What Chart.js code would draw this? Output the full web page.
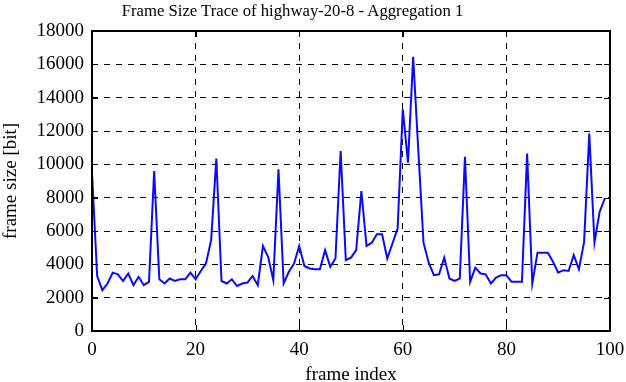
<!DOCTYPE html>
<html lang="en">
<head>
    <meta charset="UTF-8">
    <title>Frame Size Trace</title>
    <style>
        body { margin: 0; background: #fff; }
        #wrap { position: relative; width: 626px; height: 382px; }
        #title {
            position: absolute;
            left: 0;
            width: 585px;
            top: 0;
            text-align: center;
            font: 16.7px "Liberation Serif", serif;
            line-height: 22px;
            color: #000;
        }
    </style>
</head>
<body>
    <div id="wrap">
        <div id="title">Frame Size Trace of highway-20-8 - Aggregation 1</div>
        <canvas id="chart" width="626" height="382"></canvas>
    </div>
    <script src="https://cdn.jsdelivr.net/npm/chart.js"></script>
    <script>
        // frame sizes in bit, frames 0..99
        const frameSizes = [
            9500, 3300, 2450, 2850, 3500, 3400, 3000, 3450, 2750, 3250,
            2750, 2950, 9600, 3100, 2850, 3150, 3000, 3100, 3100, 3500,
            3100, 3600, 4050, 5450, 10350, 3000, 2850, 3100, 2700, 2850,
            2900, 3300, 2750, 5100, 4450, 3050, 9700, 2850, 3550, 4050,
            5100, 3900, 3750, 3700, 3700, 4850, 3850, 4350, 10800, 4250,
            4400, 4850, 8400, 5100, 5300, 5800, 5800, 4350, 5250, 6150,
            13300, 10100, 16450, 10800, 5300, 4100, 3350, 3400, 4400, 3150,
            3000, 3150, 10450, 2950, 3800, 3450, 3400, 2850, 3200, 3350,
            3350, 2950, 2950, 2950, 10650, 2850, 4700, 4700, 4700, 4150,
            3500, 3650, 3600, 4550, 3700, 5350, 11850, 5300, 7150, 7950
        ];
        const xTicks = [0, 20, 40, 60, 80, 100];
        const yTicks = [0, 2000, 4000, 6000, 8000, 10000, 12000, 14000, 16000, 18000];

        const points = frameSizes.map((v, i) => ({ x: i, y: v }));
        const serif = "'Liberation Serif', serif";
        Chart.defaults.font.family = serif;
        Chart.defaults.font.size = 19;
        Chart.defaults.color = '#000';

        // black frame plus inner tick marks on all four sides
        const framePlugin = {
            id: 'frame',
            afterDraw(chart) {
                const { ctx, chartArea: a, scales } = chart;
                ctx.save();
                ctx.strokeStyle = '#000';
                ctx.lineWidth = 1;
                ctx.setLineDash([]);
                ctx.beginPath();
                xTicks.forEach(t => {
                    const px = Math.round(scales.x.getPixelForValue(t)) + 0.5;
                    ctx.moveTo(px, a.bottom); ctx.lineTo(px, a.bottom - 6);
                    ctx.moveTo(px, a.top); ctx.lineTo(px, a.top + 6);
                });
                yTicks.forEach(t => {
                    const py = Math.round(scales.y.getPixelForValue(t)) + 0.5;
                    ctx.moveTo(a.left, py); ctx.lineTo(a.left + 6, py);
                    ctx.moveTo(a.right, py); ctx.lineTo(a.right - 6, py);
                });
                ctx.stroke();
                ctx.lineWidth = 2;
                ctx.strokeRect(a.left, a.top, a.right - a.left, a.bottom - a.top);
                ctx.restore();
            }
        };

        new Chart(document.getElementById('chart'), {
            type: 'scatter',
            data: {
                datasets: [{
                    data: points,
                    showLine: true,
                    borderColor: '#0a0aff',
                    borderWidth: 2,
                    pointRadius: 0,
                    tension: 0
                }]
            },
            options: {
                responsive: false,
                animation: false,
                layout: { padding: { left: 0, right: 16, top: 31, bottom: 0 } },
                plugins: {
                    legend: { display: false },
                    tooltip: { enabled: false },
                    title: { display: false }
                },
                scales: {
                    x: {
                        type: 'linear',
                        min: 0,
                        max: 100,
                        afterBuildTicks: s => { s.ticks = xTicks.map(v => ({ value: v })); },
                        afterFit: s => {
                            s.height = 51;
                            s.paddingLeft = 0;
                            s.paddingRight = 0;
                        },
                        ticks: {
                            padding: 8,
                            maxRotation: 0,
                            callback: v => String(v),
                            font: { family: serif, size: 19 }
                        },
                        grid: {
                            color: '#000',
                            lineWidth: 1,
                            drawTicks: false
                        },
                        border: { display: false, dash: [6, 6] },
                        title: {
                            display: true,
                            text: 'frame index',
                            padding: { top: 0, bottom: -4 },
                            font: { family: serif, size: 19 }
                        }
                    },
                    y: {
                        min: 0,
                        max: 18000,
                        afterBuildTicks: s => { s.ticks = yTicks.map(v => ({ value: v })); },
                        afterFit: s => {
                            s.width = 92;
                            s.paddingTop = 0;
                            s.paddingBottom = 0;
                        },
                        ticks: {
                            padding: 8,
                            callback: v => String(v),
                            font: { family: serif, size: 19 }
                        },
                        grid: {
                            color: '#000',
                            lineWidth: 1,
                            drawTicks: false
                        },
                        border: { display: false, dash: [6, 6] },
                        title: {
                            display: true,
                            text: 'frame size [bit]',
                            padding: 0,
                            font: { family: serif, size: 19 }
                        }
                    }
                }
            },
            plugins: [framePlugin]
        });
    </script>
</body>
</html>
